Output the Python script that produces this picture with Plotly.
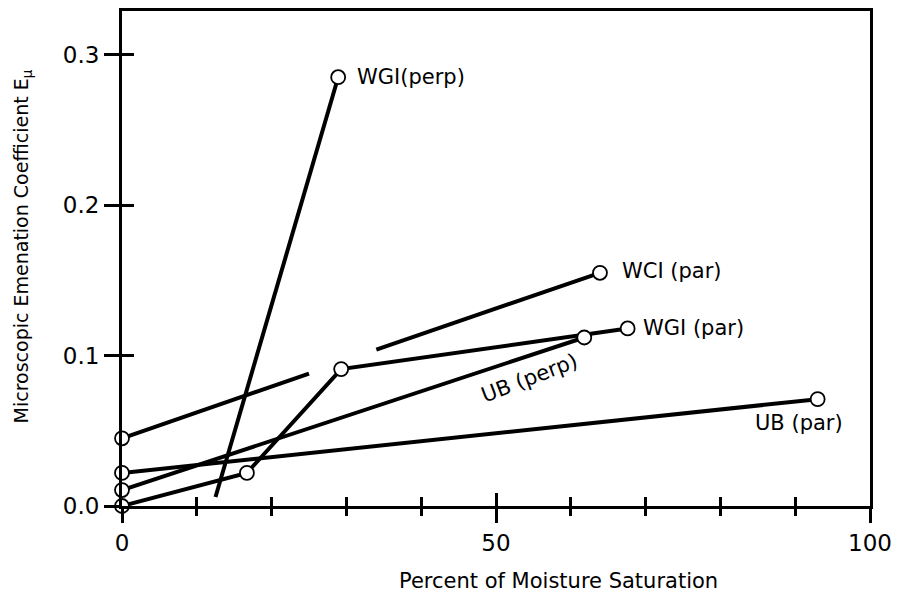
import plotly.graph_objects as go

# ---- data ----
wgi_perp_x = [12.5, 28.9]
wgi_perp_y = [0.006, 0.285]
wgi_perp_mark = [False, True]

wci_par_x = [0, 25, None, 34, 63.9]
wci_par_y = [0.045, 0.088, None, 0.104, 0.155]
wci_par_mark = [True, False, False, False, True]

wgi_par_x = [0, 16.7, 29.3, 67.6]
wgi_par_y = [0.0, 0.022, 0.091, 0.118]
wgi_par_mark = [True, True, True, True]

ub_perp_x = [0, 61.8]
ub_perp_y = [0.0106, 0.112]
ub_perp_mark = [True, True]

ub_par_x = [0, 93.0]
ub_par_y = [0.022, 0.071]
ub_par_mark = [True, True]

x_ticks = [0, 50, 100]
x_tick_labels = ["0", "50", "100"]
y_ticks = [0.0, 0.1, 0.2, 0.3]
y_tick_labels = ["0.0", "0.1", "0.2", "0.3"]

FONT = "DejaVu Sans"
series = [
    (wgi_perp_x, wgi_perp_y, wgi_perp_mark),
    (wci_par_x, wci_par_y, wci_par_mark),
    (wgi_par_x, wgi_par_y, wgi_par_mark),
    (ub_perp_x, ub_perp_y, ub_perp_mark),
    (ub_par_x, ub_par_y, ub_par_mark),
]

fig = go.Figure()
for xs, ys, _ in series:
    fig.add_trace(go.Scatter(x=xs, y=ys, mode="lines",
                             line=dict(color="black", width=4),
                             connectgaps=False, showlegend=False,
                             cliponaxis=False, hoverinfo="skip"))
for xs, ys, mk in series:
    mx = [x for x, m in zip(xs, mk) if m]
    my = [y for y, m in zip(ys, mk) if m]
    fig.add_trace(go.Scatter(x=mx, y=my, mode="markers",
                             marker=dict(symbol="circle", size=14, color="white",
                                         line=dict(color="black", width=1.8)),
                             showlegend=False, cliponaxis=False, hoverinfo="skip"))

lab_font = dict(family=FONT, size=21, color="black")
annotations = [
    dict(x=wgi_perp_x[-1], y=wgi_perp_y[-1], text="WGI(perp)", xanchor="left",
         xshift=17, showarrow=False, font=lab_font),
    dict(x=wci_par_x[-1], y=wci_par_y[-1], text="WCI (par)", xanchor="left",
         xshift=20, yshift=2, showarrow=False, font=lab_font),
    dict(x=wgi_par_x[-1], y=wgi_par_y[-1], text="WGI (par)", xanchor="left",
         xshift=13, showarrow=False, font=lab_font),
    dict(x=54.5, y=0.085, text="UB (perp)", textangle=-21, showarrow=False,
         font=lab_font),
    dict(x=ub_par_x[-1], y=ub_par_y[-1], text="UB (par)", xanchor="center",
         xshift=-19, yshift=-24, showarrow=False, font=lab_font),
    dict(xref="paper", yref="paper", x=0.584, y=-0.18,
         text="Percent of Moisture Saturation", showarrow=False,
         font=dict(family=FONT, size=21, color="black")),
    dict(xref="paper", yref="paper", x=-0.152, y=0.524, textangle=-90,
         text="Microscopic Emenation Coefficient E<sub>μ</sub>", showarrow=False,
         font=dict(family=FONT, size=19, color="black")),
]

XR = [0, 100]
YR = [0, 0.329]
common = dict(showgrid=False, zeroline=False, linecolor="black", linewidth=3)

fig.update_layout(
    width=900, height=598,
    margin=dict(l=122, r=22, t=8, b=92),
    paper_bgcolor="white", plot_bgcolor="white",
    font=dict(family=FONT, size=22, color="black"),
    annotations=annotations,
    xaxis=dict(range=XR, tickvals=x_ticks, ticktext=x_tick_labels,
               ticks="outside", ticklen=14, tickwidth=2.5, tickcolor="black",
               showline=True, mirror=True,
               minor=dict(dtick=10, ticks="outside", ticklen=7, tickwidth=2.5,
                          tickcolor="black", showgrid=False),
               tickfont=dict(family=FONT, size=23), **common),
    yaxis=dict(range=YR, tickvals=y_ticks, ticktext=y_tick_labels,
               ticks="outside", ticklen=15, tickwidth=2.5, tickcolor="black",
               showline=True, mirror=True,
               tickfont=dict(family=FONT, size=23), **common),
    xaxis2=dict(range=XR, overlaying="x", anchor="y", side="bottom",
                tickvals=x_ticks, showticklabels=False,
                ticks="inside", ticklen=13, tickwidth=2.5, tickcolor="black",
                minor=dict(dtick=10, ticks="inside", ticklen=9, tickwidth=2.5,
                           tickcolor="black", showgrid=False),
                showline=False, showgrid=False, zeroline=False),
    yaxis2=dict(range=YR, overlaying="y", anchor="x", side="left",
                tickvals=y_ticks, showticklabels=False,
                ticks="inside", ticklen=12, tickwidth=2.5, tickcolor="black",
                showline=False, showgrid=False, zeroline=False),
)
# invisible helper trace so the overlay axes are drawn
fig.add_trace(go.Scatter(x=[None], y=[None], xaxis="x2", yaxis="y2",
                         showlegend=False, hoverinfo="skip"))

fig.write_html("out.html")
